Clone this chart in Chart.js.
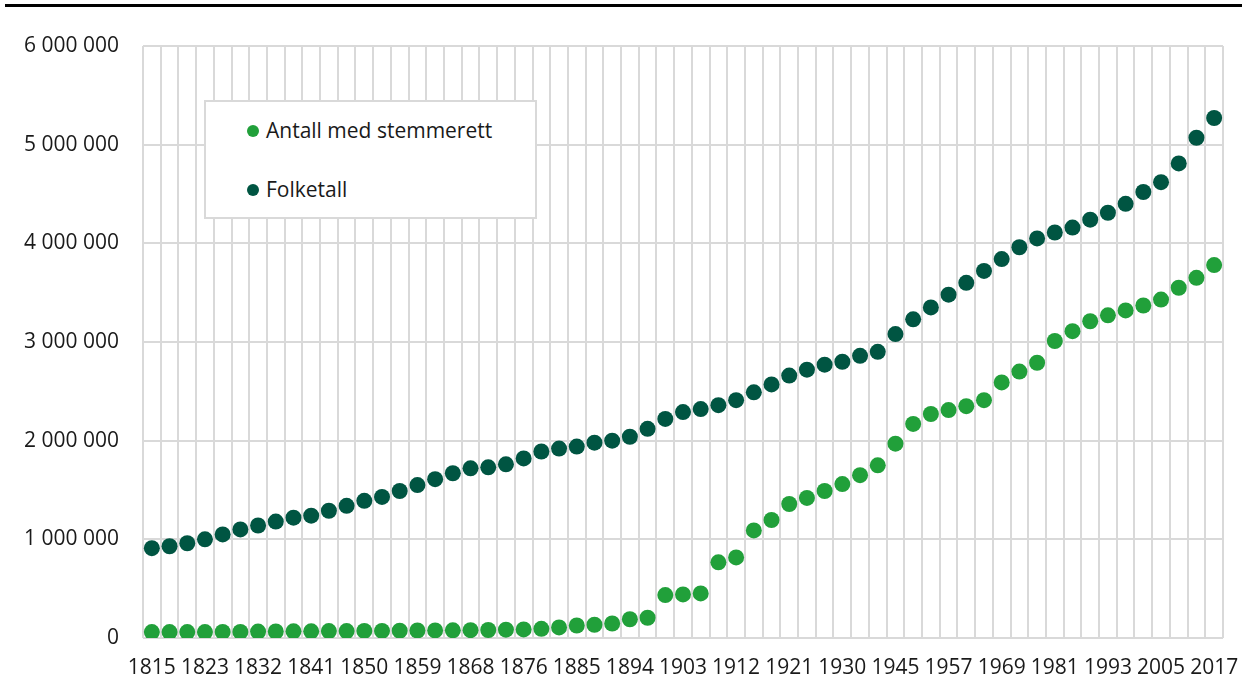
<!DOCTYPE html>
<html lang="no">
<head>
<meta charset="utf-8">
<script src="https://cdn.jsdelivr.net/npm/chart.js@4/dist/chart.umd.min.js"></script>
<style>
  html, body { margin: 0; padding: 0; background: #fff; }
  #wrap { position: relative; width: 1242px; height: 680px; font-family: 'Open Sans', sans-serif; }
  #topRule { position: absolute; left: 5px; right: 0; top: 4px; height: 3px; background: #000; }
  #legend {
    position: absolute; left: 204px; top: 100px; width: 333px; height: 119px;
    background: #fff; border: 2px solid #d9d9d9; box-sizing: border-box;
  }
  .item { position: absolute; left: 41px; font-size: 21px; color: #1a1a1a; line-height: 26px; white-space: nowrap; }
  .item i { display: inline-block; width: 12px; height: 12px; border-radius: 50%; margin-right: 7px; vertical-align: 1px; }
</style>
</head>
<body>
<div id="wrap">
  <canvas id="chart" width="1242" height="680"></canvas>
  <div id="topRule"></div>
  <div id="legend"></div>
</div>
<script>
// Stortingsvalg
const years = [
  1815, 1818, 1820, 1823, 1826, 1829, 1832, 1835, 1838, 1841, 1844, 1847, 1850, 1853, 1856,
  1859, 1862, 1865, 1868, 1870, 1873, 1876, 1879, 1882, 1885, 1888, 1891, 1894, 1897, 1900,
  1903, 1906, 1909, 1912, 1915, 1918, 1921, 1924, 1927, 1930, 1933, 1936, 1945, 1949, 1953,
  1957, 1961, 1965, 1969, 1973, 1977, 1981, 1985, 1989, 1993, 1997, 2001, 2005, 2009, 2013, 2017
];

// Antall med stemmerett
const voters = [
  60000, 60000, 60000, 60000, 62000, 62000, 65000, 66000, 68000, 68000, 70000, 70000, 72000, 72000, 74000,
  76000, 77000, 78000, 79000, 81000, 84000, 87000, 93000, 107000, 127000, 134000, 147000, 190000, 205000, 435000,
  442000, 452000, 767000, 817000, 1090000, 1196000, 1358000, 1420000, 1490000, 1560000, 1650000, 1750000, 1970000, 2170000, 2270000,
  2310000, 2350000, 2410000, 2590000, 2700000, 2790000, 3010000, 3110000, 3210000, 3270000, 3320000, 3370000, 3430000, 3550000, 3650000, 3780000
];

// Folketall
const population = [
  910000, 930000, 960000, 1000000, 1050000, 1100000, 1140000, 1180000, 1220000, 1240000, 1290000, 1340000, 1390000, 1430000, 1490000,
  1550000, 1610000, 1670000, 1720000, 1730000, 1760000, 1820000, 1890000, 1920000, 1940000, 1980000, 2000000, 2040000, 2120000, 2220000,
  2290000, 2320000, 2360000, 2410000, 2490000, 2570000, 2660000, 2720000, 2770000, 2800000, 2860000, 2900000, 3080000, 3230000, 3350000,
  3480000, 3600000, 3720000, 3840000, 3960000, 4050000, 4110000, 4160000, 4240000, 4310000, 4400000, 4520000, 4620000, 4810000, 5070000, 5270000
];

const yTicks = [0, 1000000, 2000000, 3000000, 4000000, 5000000, 6000000];

const lightGreen = '#21a03a';
const darkGreen = '#005542';
const gridColor = '#d9d9d9';
const tickFont = "'Open Sans', sans-serif";

Chart.defaults.font.family = tickFont;
Chart.defaults.color = '#1a1a1a';

const fmt = v => String(v).replace(/\B(?=(\d{3})+(?!\d))/g, ' ');

const chart = new Chart(document.getElementById('chart'), {
  type: 'line',
  data: {
    labels: years.map(String),
    datasets: [
      {
        label: 'Antall med stemmerett',
        data: voters,
        showLine: false,
        pointRadius: 8,
        pointBackgroundColor: lightGreen,
        pointBorderWidth: 0,
        borderColor: lightGreen,
        backgroundColor: lightGreen,
      },
      {
        label: 'Folketall',
        data: population,
        showLine: false,
        pointRadius: 8,
        pointBackgroundColor: darkGreen,
        pointBorderWidth: 0,
        borderColor: darkGreen,
        backgroundColor: darkGreen,
      },
    ],
  },
  options: {
    responsive: false,
    animation: false,
    layout: { padding: { top: 46, right: 19, bottom: 0, left: 0 } },
    plugins: { legend: { display: false }, tooltip: { enabled: false } },
    scales: {
      x: {
        offset: true,
        grid: { offset: true, color: gridColor, lineWidth: 2, drawTicks: false },
        border: { display: false },
        ticks: {
          autoSkip: false,
          maxRotation: 0,
          padding: 17,
          font: { family: tickFont, size: 21 },
          color: '#1a1a1a',
          callback: (v, i) => (i % 3 === 0 ? years[i] : ''),
        },
        afterFit: s => {
          s.height = 42;
          // labels may overhang the plot edges, like the original
          s.paddingLeft = 0;
          s.paddingRight = 0;
        },
      },
      y: {
        min: 0,
        max: 6000000,
        afterBuildTicks: s => { s.ticks = yTicks.map(v => ({ value: v })); },
        grid: { color: gridColor, lineWidth: 2, drawTicks: false },
        border: { display: false },
        ticks: {
          padding: 24,
          font: { family: tickFont, size: 21 },
          color: '#1a1a1a',
          callback: v => fmt(v),
        },
        afterFit: s => { s.width = 143; },
      },
    },
  },
});

// legend built from the datasets
const legend = document.getElementById('legend');
chart.data.datasets.forEach((ds, i) => {
  const el = document.createElement('div');
  el.className = 'item';
  el.style.top = (i === 0 ? 15 : 74) + 'px';
  el.innerHTML = '<i style="background:' + ds.pointBackgroundColor + '"></i>' + ds.label;
  legend.appendChild(el);
});
</script>
</body>
</html>
